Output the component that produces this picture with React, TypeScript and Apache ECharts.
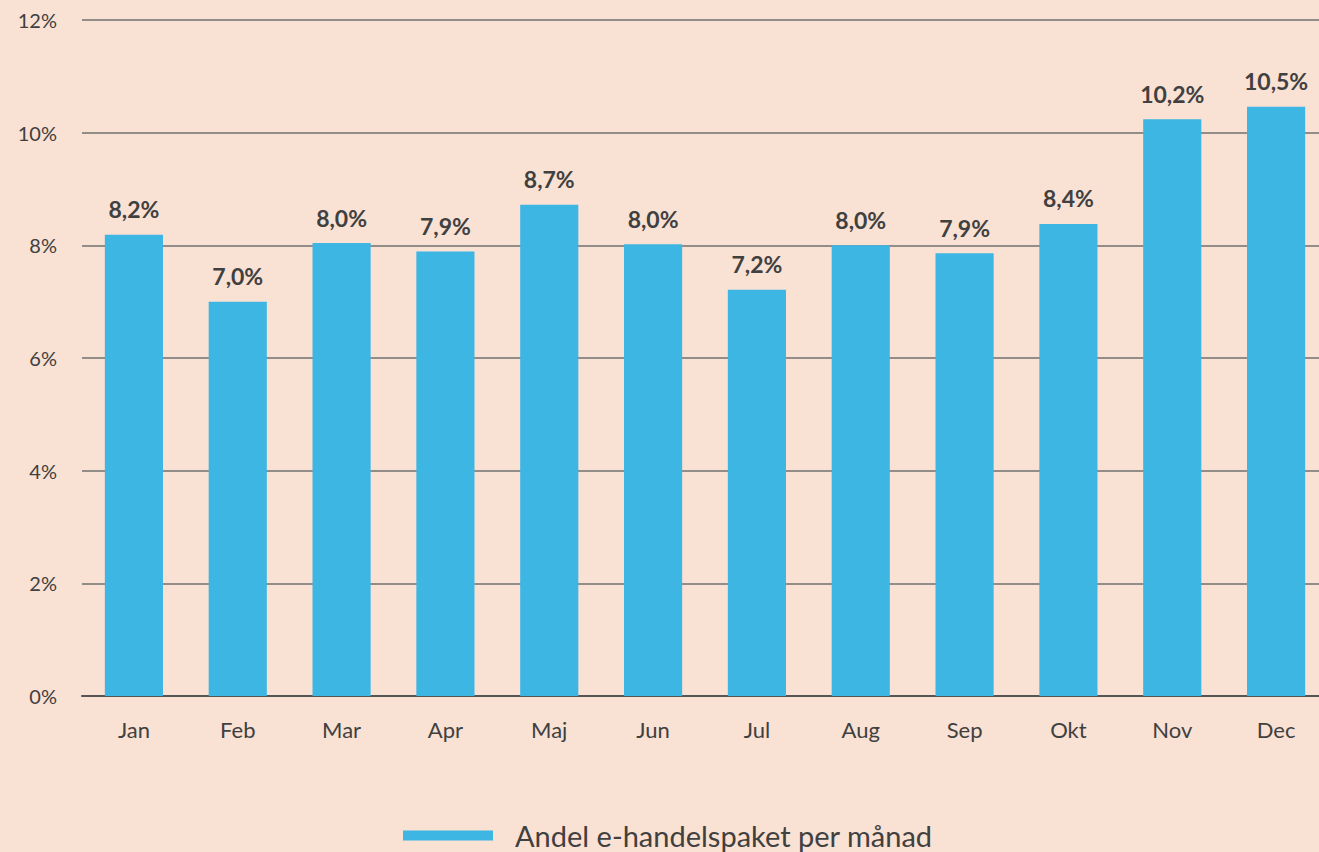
import React, { useEffect, useRef } from "react";
import * as echarts from "echarts";

const months = ["Jan", "Feb", "Mar", "Apr", "Maj", "Jun", "Jul", "Aug", "Sep", "Okt", "Nov", "Dec"];
const shares = [8.19, 7.0, 8.04, 7.89, 8.72, 8.02, 7.21, 8.0, 7.86, 8.38, 10.24, 10.46];
const seriesName = "Andel e-handelspaket per månad";

export default function App() {
  const ref = useRef<HTMLDivElement>(null);
  useEffect(() => {
    if (!ref.current) return;
    const chart = echarts.init(ref.current, null, { renderer: "svg" });
    const font = "Lato, 'Open Sans', sans-serif";
    chart.setOption({
      animation: false,
      backgroundColor: "#f9e1d4",
      textStyle: { fontFamily: font },
      grid: { left: 82, right: 0, top: 20, bottom: 156, containLabel: false },
      legend: {
        left: 398,
        top: 816,
        itemWidth: 90,
        itemHeight: 10,
        itemGap: 20,
        icon: "rect",
        textStyle: { fontSize: 29, color: "#404040", fontFamily: font, padding: [0, 0, 0, 17] },
        data: [seriesName],
      },
      xAxis: {
        type: "category",
        data: months,
        axisTick: { show: false },
        axisLine: { lineStyle: { color: "#555555", width: 2 } },
        axisLabel: { fontSize: 22, color: "#404040", margin: 22, fontFamily: font },
      },
      yAxis: {
        type: "value",
        min: 0,
        max: 12,
        interval: 2,
        axisLine: { show: false },
        axisTick: { show: false },
        axisLabel: { fontSize: 20, color: "#404040", margin: 25, formatter: "{value}%", fontFamily: font },
        splitLine: { lineStyle: { color: "#707070", width: 1.5 } },
      },
      series: [
        {
          name: seriesName,
          type: "bar",
          data: shares,
          barWidth: "56%",
          itemStyle: { color: "#3db6e3" },
          label: {
            show: true,
            position: "top",
            distance: 14,
            fontSize: 23,
            fontWeight: "bold",
            color: "#404040",
            fontFamily: font,
            formatter: (p: any) => p.value.toFixed(1).replace(".", ",") + "%",
          },
        },
      ],
    });
    return () => chart.dispose();
  }, []);
  return (
    <div style={{ position: "fixed", left: 0, top: 0, width: 1319, height: 852, overflow: "hidden", background: "#f9e1d4" }}>
      <div ref={ref} style={{ width: 1328, height: 852 }} />
    </div>
  );
}
